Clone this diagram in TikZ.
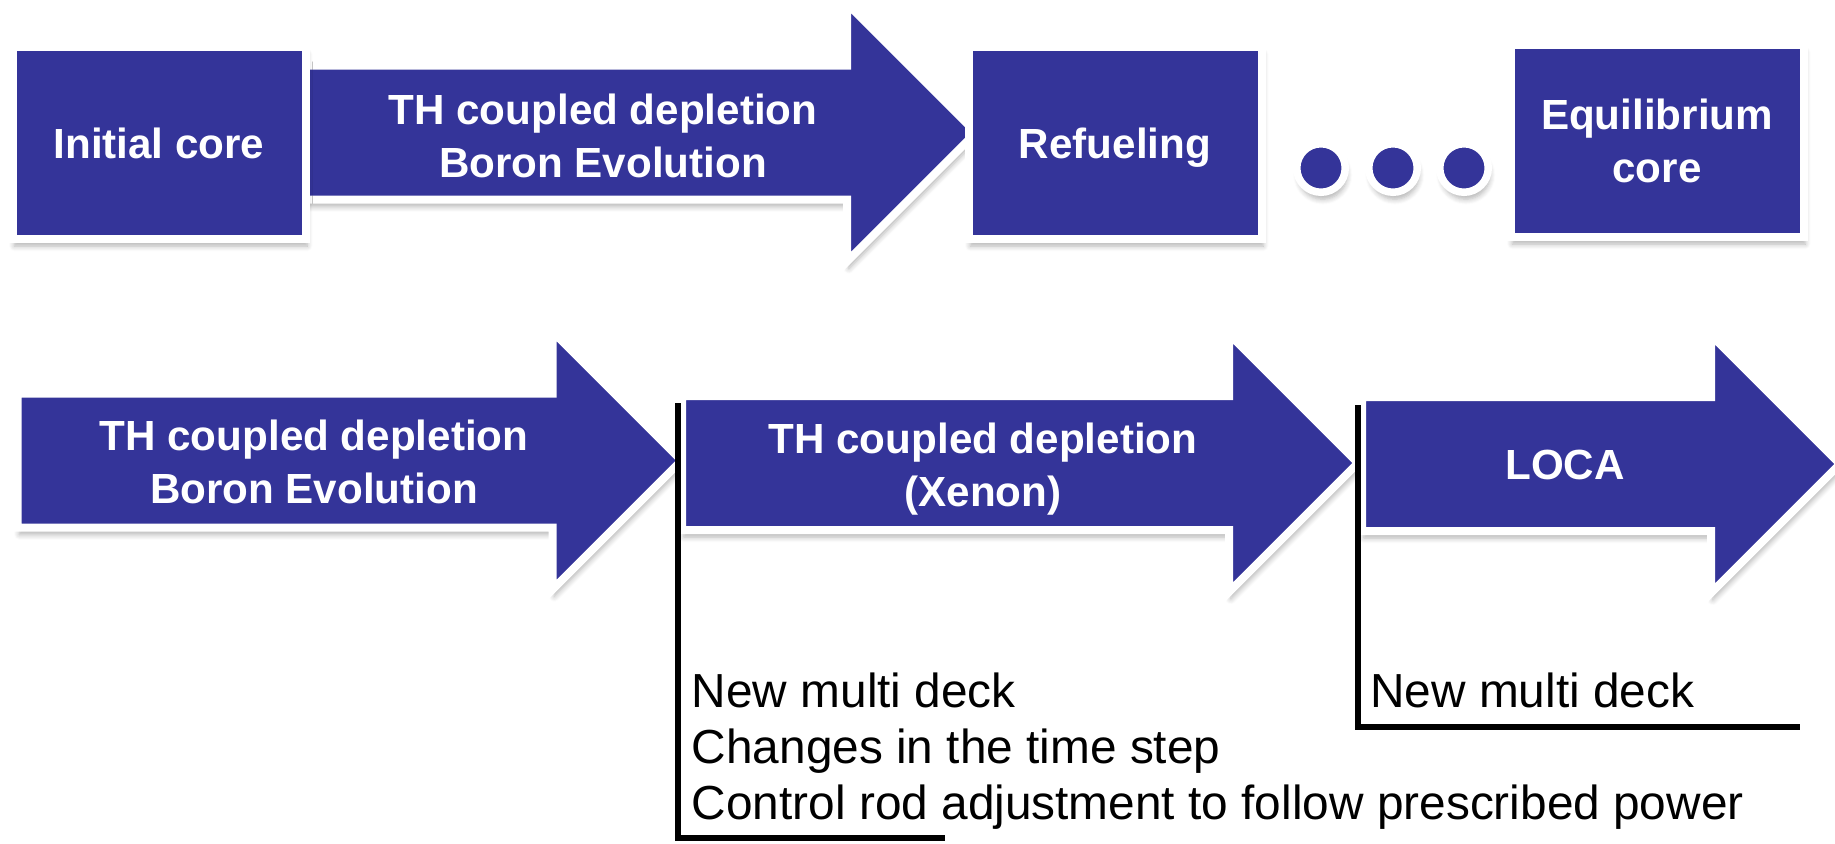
\documentclass[tikz,border=0pt]{standalone}
\usepackage{fontspec}
\setmainfont{Liberation Sans}
\usetikzlibrary{shapes.arrows,shadows.blur}
\definecolor{stageblue}{RGB}{52,52,153}
\newcommand{\unitpx}{0.02cm}

\begin{document}
\begin{tikzpicture}[x=\unitpx, y=-\unitpx,
  softshadow/.style={blur shadow={shadow xshift=1pt, shadow yshift=-4pt,
    shadow blur radius=3pt, shadow blur steps=6, shadow opacity=30}},
  stage/.style={rectangle, fill=stageblue, draw=white, line width=8*\unitpx,
    minimum width=293*\unitpx, minimum height=192*\unitpx, inner sep=0pt,
    text=white, align=center, text depth=0pt,
    font=\fontsize{24}{30}\selectfont\bfseries, softshadow},
  flow/.style={single arrow, single arrow head extend=62*\unitpx,
    inner xsep=0pt, inner ysep=63*\unitpx, anchor=tail,
    fill=stageblue, draw=white, line width=8*\unitpx, softshadow},
  flowtext/.style={text=white, align=center, inner sep=0pt,
    font=\fontsize{24}{30}\selectfont\bfseries},
  ellip/.style={circle, fill=stageblue, draw=white, line width=7.5*\unitpx,
    minimum size=48.5*\unitpx, inner sep=0pt, softshadow},
  note/.style={anchor=west, align=left, inner sep=0pt,
    font=\fontsize{27.2}{31.7}\selectfont},
  noteline/.style={line width=6*\unitpx, black},
]
\useasboundingbox (0,0) rectangle (1835,843);

% Top row (arrow first, the boxes sit on its ends)
\node[flow, minimum height=672*\unitpx] (coreflow) at (300,132.5) {};
\node[stage] (initial) at (159,143) {Initial core};
\node[stage] (refuel)  at (1115,143) {Refueling};
\node[stage] (equil)   at (1657,141) {Equilibrium\\core};
\node[ellip] (dot1) at (1321,168) {};
\node[ellip] (dot2) at (1393,168) {};
\node[ellip] (dot3) at (1464,168) {};
\node[flowtext] (coretext) at (603,136) {TH coupled depletion\\Boron Evolution};

% Bottom row
\node[flow, minimum height=664*\unitpx] (boronflow) at (13.5,460.5) {};
\node[flow, minimum height=676*\unitpx] (xenonflow) at (678,463) {};
\node[flow, minimum height=478*\unitpx] (locaflow)  at (1358,464) {};
\node[flowtext] (borontext) at (314,462) {TH coupled depletion\\Boron Evolution};
\node[flowtext] (xenontext) at (983,469) {TH coupled depletion\\(Xenon)};
\node[flowtext] (locatext)  at (1565,465) {LOCA};

% Notes under the restart steps
\node[note] (xenonnote) at (691.5,751) {New multi deck\\Changes in the time step\\Control rod adjustment to follow prescribed power};
\node[note] (locanote) at (1370,690) {New multi deck};

\coordinate (xenontop)  at (678,403);
\coordinate (xenonfoot) at (945,838);
\coordinate (locatop)   at (1358,405);
\coordinate (locafoot)  at (1800,727);
\draw[noteline] (xenontop) |- (xenonfoot);
\draw[noteline] (locatop) |- (locafoot);
\end{tikzpicture}
\end{document}
